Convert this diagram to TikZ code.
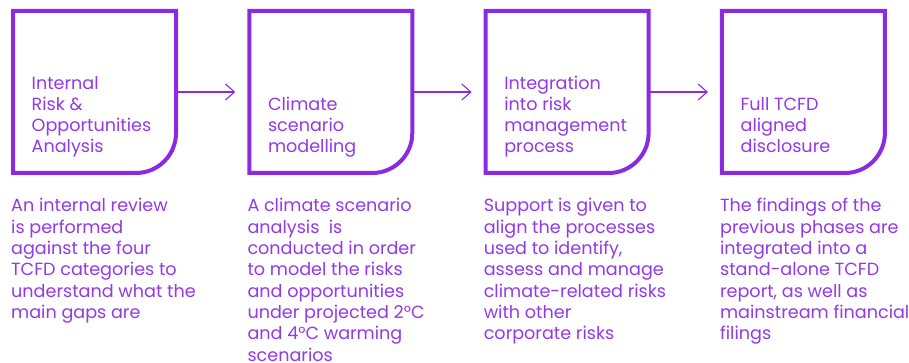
\documentclass[tikz,border=0pt]{standalone}
\usepackage{fontspec}
\setmainfont{Poppins}
\usetikzlibrary{arrows.meta}
\definecolor{vio}{RGB}{138,43,226}
\definecolor{viotext}{RGB}{146,58,232}
\newcommand{\topblock}[1]{\vtop{\hsize=230pt\parindent=0pt\raggedright\baselineskip=21.3pt #1\par}}
\newcommand{\botblock}[1]{\vbox{\hsize=160pt\parindent=0pt\raggedright\baselineskip=21.2pt #1\par}}
\tikzset{
  boxnode/.style={minimum width=163pt, minimum height=162pt, inner sep=0pt, outer sep=0pt},
  boxline/.style={draw=vio, line width=4pt},
  flow/.style={draw=vio, line width=1.1pt, -{Straight Barb[length=9pt,width=16pt,line width=1.1pt]}, shorten >=14pt},
  txt/.style={anchor=base west, inner sep=0pt, text=viotext, font=\fontsize{17.6pt}{21pt}\selectfont}
}
\begin{document}
\begin{tikzpicture}[x=1pt,y=1pt]
\useasboundingbox[fill=white] (0,0) rectangle (909,363);
\foreach \i in {1,...,4}{
  \pgfmathsetmacro{\cx}{13+236.3*(\i-1)+81.5}
  \node[boxnode] (b\i) at (\cx,271) {};
  \draw[boxline] (b\i.north west) -- (b\i.north east) -- ([yshift=40pt]b\i.south east)
     arc[start angle=0,end angle=-90,radius=40pt] -- (b\i.south west) -- cycle;
}
\draw[flow] (b1.east) -- (b2.west);
\draw[flow] (b2.east) -- (b3.west);
\draw[flow] (b3.east) -- (b4.west);

\node[txt] (t1) at ([xshift=18.5pt]b1.south west |- 0,210) {\botblock{Internal\\Risk \&\\Opportunities\\Analysis}};
\node[txt] (t2) at ([xshift=18.5pt]b2.south west |- 0,210) {\botblock{Climate\\scenario\\modelling}};
\node[txt] (t3) at ([xshift=18.5pt]b3.south west |- 0,210) {\botblock{Integration\\into risk\\management\\process}};
\node[txt] (t4) at ([xshift=18.5pt]b4.south west |- 0,210) {\botblock{Full TCFD\\aligned\\disclosure}};

\node[txt] (d1) at ([xshift=-2pt]b1.south west |- 0,151) {\topblock{An internal review\\is performed\\against the four\\TCFD categories to\\understand what the\\main gaps are}};
\node[txt] (d2) at ([xshift=-2pt]b2.south west |- 0,151) {\topblock{A climate scenario\\analysis\ \ is\\conducted in order\\to model the risks\\and opportunities\\under projected 2°C\\and 4°C warming\\scenarios}};
\node[txt] (d3) at ([xshift=-2pt]b3.south west |- 0,151) {\topblock{Support is given to\\align the processes\\used to identify,\\assess and manage\\climate-related risks\\with other\\corporate risks}};
\node[txt] (d4) at ([xshift=-2pt]b4.south west |- 0,151) {\topblock{The findings of the\\previous phases are\\integrated into a\\stand-alone TCFD\\report, as well as\\mainstream financial\\filings}};
\end{tikzpicture}
\end{document}
